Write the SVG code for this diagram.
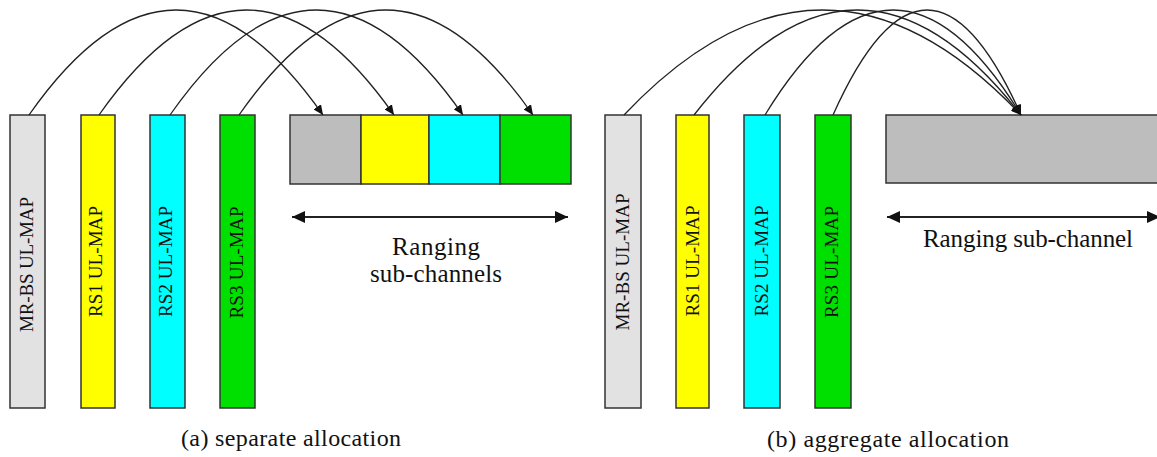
<svg xmlns="http://www.w3.org/2000/svg" width="1157" height="457" viewBox="0 0 1157 457">
<defs>
<style>
.bar{stroke:#333;stroke-width:1.5}
.lbl{font-family:"Liberation Serif","Times New Roman",serif;font-size:19px;fill:#111;text-anchor:middle}
.txt{font-family:"Liberation Serif","Times New Roman",serif;font-size:25px;fill:#111;text-anchor:middle}
.cap{font-family:"Liberation Serif","Times New Roman",serif;font-size:24px;fill:#111;text-anchor:middle}
.arc{fill:none;stroke:#222;stroke-width:1.3;marker-end:url(#ah)}
.dbl{fill:none;stroke:#222;stroke-width:2;marker-start:url(#dh);marker-end:url(#dh)}
</style>
<marker id="ah" markerUnits="userSpaceOnUse" markerWidth="10" markerHeight="9" refX="10" refY="4.5" orient="auto"><path d="M0,0 L10,4.5 L0,9 z" fill="#111"/></marker>
<marker id="dh" markerUnits="userSpaceOnUse" markerWidth="13" markerHeight="12" refX="13" refY="6" orient="auto-start-reverse"><path d="M0,0 L13,6 L0,12 z" fill="#111"/></marker>
</defs>
<rect width="1157" height="457" fill="#fff"/>

<!-- Panel (a) -->
<g id="a-mrbs">
<rect class="bar" x="10" y="115" width="35" height="293" fill="#e2e2e2"/>
<text class="lbl" transform="translate(33,264.5) rotate(-90)" textLength="135" lengthAdjust="spacing">MR-BS UL-MAP</text>
</g>
<g id="a-rs1">
<rect class="bar" x="81" y="115" width="34" height="293" fill="#ffff00"/>
<text class="lbl" transform="translate(102,261.5) rotate(-90)" textLength="111" lengthAdjust="spacing">RS1 UL-MAP</text>
</g>
<g id="a-rs2">
<rect class="bar" x="150" y="115" width="35" height="293" fill="#00ffff"/>
<text class="lbl" transform="translate(172,261.5) rotate(-90)" textLength="111" lengthAdjust="spacing">RS2 UL-MAP</text>
</g>
<g id="a-rs3">
<rect class="bar" x="220" y="115" width="35" height="293" fill="#00e000"/>
<text class="lbl" transform="translate(243,262.5) rotate(-90)" textLength="112" lengthAdjust="spacing">RS3 UL-MAP</text>
</g>
<g id="a-ranging">
<rect class="bar" x="290" y="115" width="71" height="69" fill="#bdbdbd"/>
<rect class="bar" x="361" y="115" width="68" height="69" fill="#ffff00"/>
<rect class="bar" x="429" y="115" width="71" height="69" fill="#00ffff"/>
<rect class="bar" x="500" y="115" width="71" height="69" fill="#00e000"/>
</g>
<g id="a-label">
<text class="txt" x="436" y="255" textLength="88" lengthAdjust="spacing">Ranging</text>
<text class="txt" x="436" y="282" textLength="132" lengthAdjust="spacing">sub-channels</text>
</g>
<g id="a-caption">
<text class="cap" x="291" y="446" textLength="220" lengthAdjust="spacing">(a) separate allocation</text>
</g>

<!-- Panel (b) -->
<g id="b-mrbs">
<rect class="bar" x="605" y="115" width="36" height="293" fill="#e2e2e2"/>
<text class="lbl" transform="translate(629,262) rotate(-90)" textLength="137" lengthAdjust="spacing">MR-BS UL-MAP</text>
</g>
<g id="b-rs1">
<rect class="bar" x="676" y="115" width="33" height="293" fill="#ffff00"/>
<text class="lbl" transform="translate(699,261) rotate(-90)" textLength="111" lengthAdjust="spacing">RS1 UL-MAP</text>
</g>
<g id="b-rs2">
<rect class="bar" x="744" y="115" width="36" height="293" fill="#00ffff"/>
<text class="lbl" transform="translate(768,261) rotate(-90)" textLength="111" lengthAdjust="spacing">RS2 UL-MAP</text>
</g>
<g id="b-rs3">
<rect class="bar" x="815" y="115" width="36" height="293" fill="#00e000"/>
<text class="lbl" transform="translate(838,262) rotate(-90)" textLength="112" lengthAdjust="spacing">RS3 UL-MAP</text>
</g>
<g id="b-ranging">
<rect class="bar" x="886" y="115" width="290" height="68" fill="#bdbdbd"/>
</g>
<g id="b-label">
<text class="txt" x="1028" y="247" textLength="210" lengthAdjust="spacing">Ranging sub-channel</text>
</g>
<g id="b-caption">
<text class="cap" x="888" y="447" textLength="242" lengthAdjust="spacing">(b) aggregate allocation</text>
</g>

<g id="connectors">
<path class="arc" d="M29 115 Q176 -95 323 115"/>
<path class="arc" d="M99 115 Q246.5 -95 394 115"/>
<path class="arc" d="M170 115 Q316.5 -95 463 115"/>
<path class="arc" d="M239 115 Q386 -95 533 115"/>
<path class="arc" d="M624 115 Q822.5 -95 1021 115"/>
<path class="arc" d="M694 115 Q857.5 -95 1021 115"/>
<path class="arc" d="M765 115 Q893 -95 1021 115"/>
<path class="arc" d="M833 115 Q927 -95 1021 115"/>
<path class="dbl" d="M292 217 L568 217"/>
<path class="dbl" d="M887 217 L1160 217"/>
</g>
</svg>
